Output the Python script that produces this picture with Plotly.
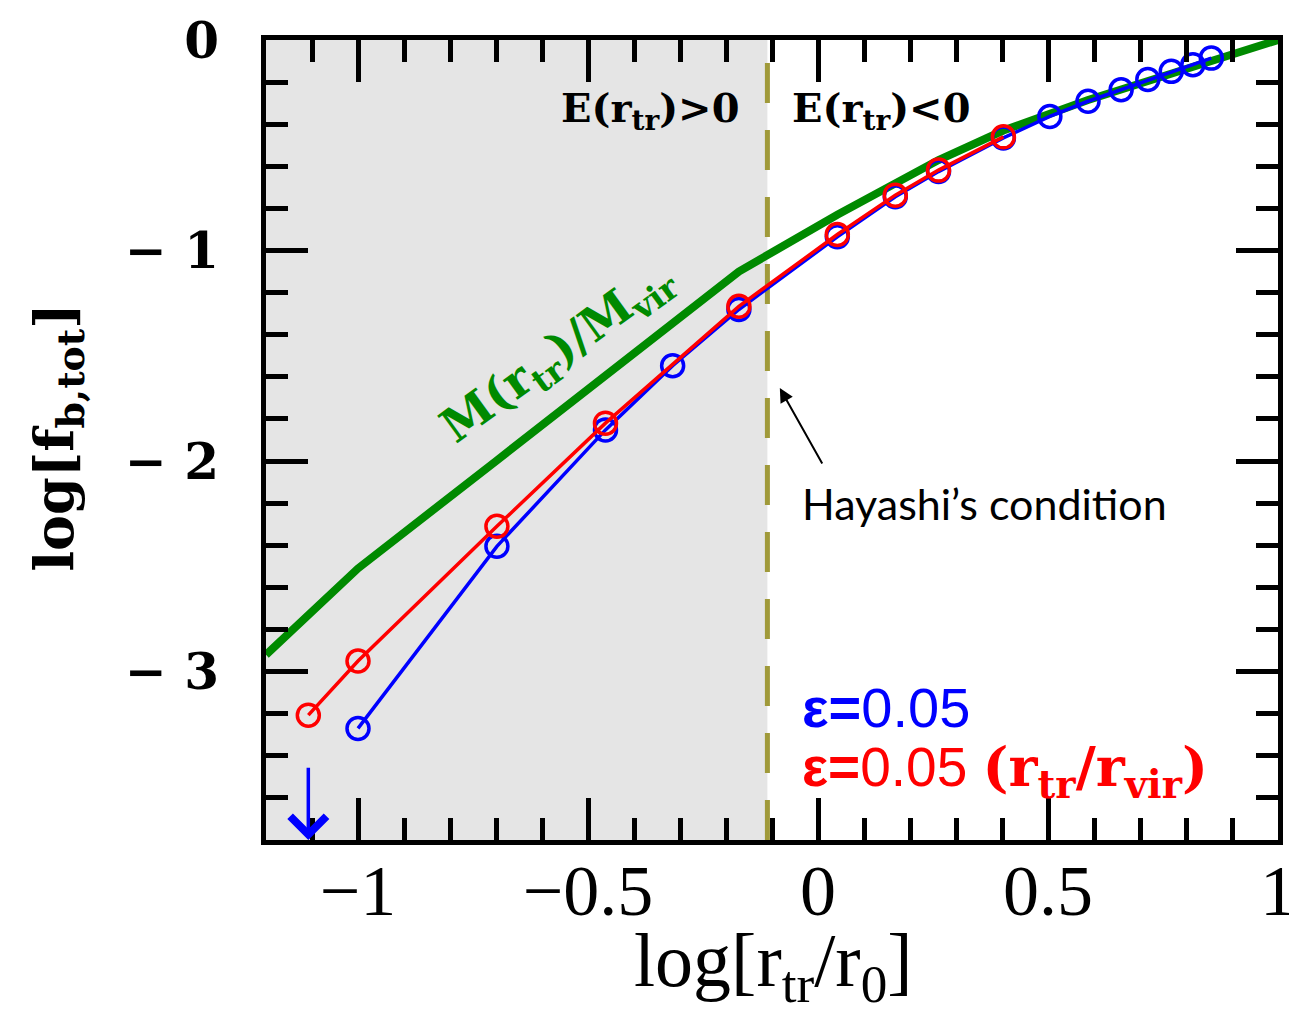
import plotly.graph_objects as go

# ---------------- data ----------------
green_x = [-1.2, -1.1, -1.0, -0.7, -0.46, -0.172, 0.042, 0.168, 0.262, 0.403, 0.504, 0.587, 0.659, 0.717, 0.768, 0.815, 0.855, 1.0]
green_y = [-2.92, -2.71, -2.51, -2.0, -1.59, -1.10, -0.83, -0.675, -0.57, -0.43, -0.345, -0.285, -0.235, -0.195, -0.158, -0.125, -0.097, 0.0]

blue_x = [-1.0, -0.698, -0.462, -0.316, -0.172, 0.042, 0.168, 0.262, 0.403, 0.504, 0.587, 0.659, 0.717, 0.768, 0.815, 0.855]
blue_y = [-3.27, -2.405, -1.852, -1.547, -1.28, -0.935, -0.745, -0.625, -0.465, -0.363, -0.291, -0.236, -0.188, -0.149, -0.117, -0.086]

red_x = [-1.108, -1.0, -0.698, -0.462, -0.172, 0.042, 0.168, 0.262, 0.403]
red_y = [-3.207, -2.95, -2.31, -1.82, -1.265, -0.924, -0.737, -0.618, -0.46]

upper_limit_x = [-1.108]
upper_limit_y = [-3.45]

hayashi_x = -0.11
x_range = [-1.2, 1.0]
y_range = [-3.8, 0.0]

x_tick_vals = [-1, -0.5, 0, 0.5, 1]
x_tick_text = ["\u22121", "\u22120.5", "0", "0.5", "1"]
y_tick_vals = [0, -1, -2, -3]
y_tick_text = ["0", "\u2212 1", "\u2212 2", "\u2212 3"]

GREEN = "#008A00"
OLIVE = "#A09A3A"
SERIF = "DejaVu Serif"

fig = go.Figure()

# shaded region E>0
fig.add_shape(type="rect", xref="x", yref="y", x0=x_range[0], x1=hayashi_x,
              y0=y_range[0], y1=y_range[1], fillcolor="#E5E5E5",
              line=dict(width=0), layer="below")

# Hayashi dashed line
fig.add_trace(go.Scatter(x=[hayashi_x, hayashi_x], y=[y_range[0], y_range[1]],
                         mode="lines", line=dict(color=OLIVE, width=5, dash="40px,27px"),
                         hoverinfo="skip", showlegend=False))

# green M(r_tr)/Mvir curve
fig.add_trace(go.Scatter(x=green_x, y=green_y, mode="lines",
                         line=dict(color=GREEN, width=8), showlegend=False))

# blue
fig.add_trace(go.Scatter(x=blue_x, y=blue_y, mode="lines+markers",
                         line=dict(color="#0000FF", width=3.5),
                         marker=dict(symbol="circle-open", size=22, color="#0000FF",
                                     line=dict(width=3.5, color="#0000FF")),
                         showlegend=False))
# red
fig.add_trace(go.Scatter(x=red_x, y=red_y, mode="lines+markers",
                         line=dict(color="#FF0000", width=3.5),
                         marker=dict(symbol="circle-open", size=22, color="#FF0000",
                                     line=dict(width=3.5, color="#FF0000")),
                         showlegend=False))

# upper limit arrow (blue)
fig.add_annotation(x=upper_limit_x[0], y=y_range[0], ax=upper_limit_x[0], ay=upper_limit_y[0],
                   xref="x", yref="y", axref="x", ayref="y", text="",
                   showarrow=True, arrowhead=4, arrowsize=2.0, arrowwidth=3.5,
                   arrowcolor="#0000FF", standoff=0)

# Hayashi arrow
fig.add_annotation(x=-0.083, y=-1.653, ax=0.011, ay=-2.019,
                   xref="x", yref="y", axref="x", ayref="y", text="",
                   showarrow=True, arrowhead=2, arrowsize=1.4, arrowwidth=2,
                   arrowcolor="black", standoff=0)
fig.add_annotation(x=0.363, y=-2.2, xref="x", yref="y", text="Hayashi\u2019s condition",
                   showarrow=False, font=dict(family="Lato", size=43, color="black"))

# region labels
fig.add_annotation(x=-0.365, y=-0.337, xref="x", yref="y",
                   text="E(r<sub>tr</sub>)>0", showarrow=False,
                   font=dict(family=SERIF, size=40, color="black", weight="bold"))
fig.add_annotation(x=0.137, y=-0.337, xref="x", yref="y",
                   text="E(r<sub>tr</sub>)<0", showarrow=False,
                   font=dict(family=SERIF, size=40, color="black", weight="bold"))

# green label
fig.add_annotation(x=-0.565, y=-1.49, xref="x", yref="y",
                   text="M(r<sub>tr</sub>)/M<sub>vir</sub>", showarrow=False, textangle=-36,
                   font=dict(family=SERIF, size=47, color=GREEN, weight="bold"))

# legend texts
fig.add_annotation(x=-0.04, y=-3.17, xref="x", yref="y", xanchor="left",
                   text="<b>\u03b5=</b>0.05", showarrow=False,
                   font=dict(family="Liberation Sans", size=56, color="#0000FF"))
fig.add_annotation(x=-0.04, y=-3.47, xref="x", yref="y", xanchor="left",
                   text="<b>\u03b5=</b>0.05 <span style='font-family:DejaVu Serif;font-weight:bold'>(r<sub>tr</sub>/r<sub>vir</sub>)</span>",
                   showarrow=False,
                   font=dict(family="Liberation Sans", size=55, color="#FF0000"))

# axis titles
fig.add_annotation(x=-0.207, y=0.5025, xref="paper", yref="paper", textangle=-90,
                   xanchor="center", yanchor="middle",
                   text="log[f<sub>b,tot</sub>]", showarrow=False,
                   font=dict(family=SERIF, size=54, color="black", weight="bold"))
fig.add_annotation(x=0.501, y=-0.157, xref="paper", yref="paper",
                   xanchor="center", yanchor="middle",
                   text="log[r<sub>tr</sub>/r<sub>0</sub>]", showarrow=False,
                   font=dict(family="Liberation Serif", size=76, color="black"))

fig.update_xaxes(range=x_range, tickmode="array", tickvals=x_tick_vals, ticktext=x_tick_text,
                 ticks="inside", ticklen=42, tickwidth=5, tickcolor="black",
                 minor=dict(ticks="inside", dtick=0.1, tick0=0, ticklen=22, tickwidth=5, tickcolor="black"),
                 showline=True, linewidth=5, linecolor="black", mirror="ticks",
                 showgrid=False, zeroline=False, ticklabelstandoff=-16, automargin=False,
                 tickfont=dict(family="Liberation Serif", size=72, color="black"))
fig.update_yaxes(range=y_range, tickmode="array", tickvals=y_tick_vals, ticktext=y_tick_text,
                 ticks="inside", ticklen=42, tickwidth=5, tickcolor="black",
                 minor=dict(ticks="inside", dtick=0.2, tick0=0, ticklen=22, tickwidth=5, tickcolor="black"),
                 showline=True, linewidth=5, linecolor="black", mirror="ticks",
                 showgrid=False, zeroline=False, ticklabelstandoff=32, automargin=False,
                 tickfont=dict(family=SERIF, size=50, color="black", weight="bold"))

fig.update_layout(width=1297, height=1015, autosize=False,
                  margin=dict(l=258, r=27, t=32, b=183),
                  plot_bgcolor="white", paper_bgcolor="white", showlegend=False)

fig.write_html("out.html")
